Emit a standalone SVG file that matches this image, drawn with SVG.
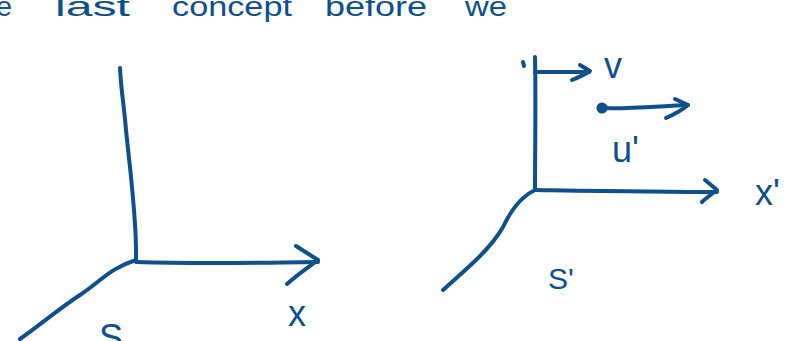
<svg xmlns="http://www.w3.org/2000/svg" width="796" height="341" viewBox="0 0 796 341">
<style>
.s{fill:none;stroke:#0e4f8e;stroke-width:4;stroke-linecap:round;stroke-linejoin:round}
.t{fill:#0e4f8e;font-family:"Liberation Sans","DejaVu Sans",sans-serif}
.h{font-size:28px}
.l{font-size:36px}
</style>
<rect width="796" height="341" fill="#ffffff"/>
<g id="heading">
<text class="t h" x="-4" y="16" textLength="16" lengthAdjust="spacingAndGlyphs">e</text>
<text class="t h" x="55" y="16" textLength="75" lengthAdjust="spacingAndGlyphs">last</text>
<text class="t h" x="172" y="16" textLength="120" lengthAdjust="spacingAndGlyphs">concept</text>
<text class="t h" x="325" y="16" textLength="102" lengthAdjust="spacingAndGlyphs">before</text>
<text class="t h" x="465" y="16" textLength="42" lengthAdjust="spacingAndGlyphs">we</text>
</g>
<g id="frame-S">
<path class="s" d="M120 68 C121 90 124 105 126 130 C130 170 137 220 136 260"/>
<path class="s" d="M136 260 C110 268 100 282 80 295 C60 308 40 325 20 339"/>
<path class="s" d="M136 262 C200 264 260 263 318 262"/>
<path class="s" d="M296 246 L318 260 C310 266 298 274 287 284"/>
<text class="t l" x="288" y="326">x</text>
<text class="t" x="99" y="350" font-size="36">S</text>
</g>
<g id="frame-S-prime">
<path class="s" d="M535 57 C536 100 535 150 535 190"/>
<path class="s" d="M523 62 L524 66"/>
<path class="s" d="M535 190 C522 196 512 208 503 227 C490 250 465 270 443 290"/>
<path class="s" d="M535 190 C600 191 660 192 717 192"/>
<path class="s" d="M705 180 L717 190 C712 194 706 198 702 202"/>
<text class="t l" x="755" y="205">x'</text>
<text class="t" x="548" y="289" font-size="30">S'</text>
</g>
<g id="velocity-v">
<path class="s" d="M535 72 L589 72"/>
<path class="s" d="M580 65 L590 71 C584 75 577 78 572 80"/>
<text class="t l" x="604" y="78">v</text>
</g>
<g id="particle">
<circle cx="602" cy="108" r="5.5" fill="#0e4f8e"/>
<path class="s" d="M602 108 C630 109 660 106 688 105"/>
<path class="s" d="M675 99 L688 105 C682 110 673 115 666 118"/>
<text class="t l" x="612" y="162">u'</text>
</g>
</svg>
